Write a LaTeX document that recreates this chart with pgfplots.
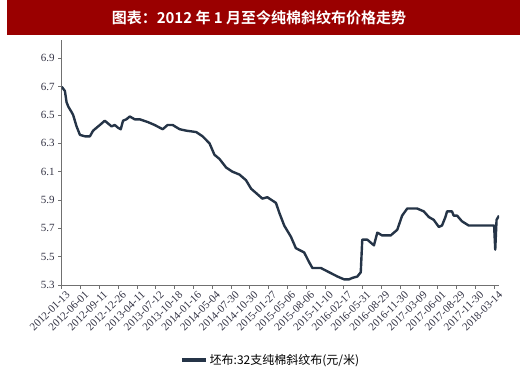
\documentclass[border=0pt]{standalone}
\usepackage{fontspec}
\setmainfont{Liberation Serif}
\newfontfamily\cjk{Noto Sans CJK SC}[BoldFont={Noto Sans CJK SC Bold}]
\usepackage{pgfplots}
\pgfplotsset{compat=1.18}
\definecolor{titlered}{HTML}{9A0000}
\definecolor{linec}{HTML}{253447}
\definecolor{tickc}{HTML}{333344}
\definecolor{axisc}{HTML}{707070}
\begin{document}
\begin{tikzpicture}
\useasboundingbox (0pt,0pt) rectangle (520pt,-376pt);
\fill[titlered] (7pt,0pt) rectangle (520pt,-35pt);
\node[text=white,font=\cjk\bfseries\fontsize{15}{17}\selectfont] at (259pt,-18pt) {图表：2012 年 1 月至今纯棉斜纹布价格走势};
\begin{axis}[
  at={(61.7pt,-285pt)}, anchor=south west,
  scale only axis, width=437.3pt, height=245pt,
  xmin=0, xmax=23.25, ymin=5.3, ymax=7.03,
  axis x line*=bottom, axis y line*=left,
  axis line style={axisc, line width=0.8pt, -},
  tick align=outside, major tick length=3.5pt,
  tick style={axisc, line width=0.8pt},
  xtick={0,...,23},
  xticklabels={2012-01-13,2012-06-01,2012-09-11,2012-12-26,2013-04-11,2013-07-12,2013-10-18,2014-01-16,2014-05-04,2014-07-30,2014-10-30,2015-01-27,2015-05-06,2015-08-06,2015-11-10,2016-02-17,2016-05-31,2016-08-29,2016-11-30,2017-03-09,2017-06-01,2017-08-29,2017-11-30,2018-03-14},
  x tick label style={rotate=45, anchor=north east, font=\fontsize{11}{11}\selectfont, text=tickc, inner sep=1pt, xshift=2.5pt, yshift=-2.5pt},
  ytick={5.3,5.5,5.7,5.9,6.1,6.3,6.5,6.7,6.9},
  y tick label style={font=\fontsize{11}{12}\selectfont, text=tickc},
  yticklabel style={/pgf/number format/fixed, /pgf/number format/fixed zerofill, /pgf/number format/precision=1, /pgf/number format/assume math mode=true},
  legend style={at={(0.478,-0.306)}, anchor=center, draw=none, fill=none, font=\cjk\fontsize{12}{13}\selectfont, inner sep=0pt},
  legend image code/.code={\draw[line width=3.5pt,linec] (0pt,0pt) -- (24pt,0pt);},
]
\addplot[linec, line width=2.4pt, line join=round] coordinates {
(0,6.70) (0.17,6.67) (0.26,6.59) (0.35,6.56) (0.53,6.52) (0.61,6.50) (0.79,6.42) (0.97,6.36)
(1.23,6.35) (1.50,6.35) (1.67,6.39) (1.85,6.41) (2.03,6.43) (2.29,6.46) (2.47,6.44) (2.65,6.42)
(2.82,6.43) (3.00,6.41) (3.14,6.40) (3.26,6.46) (3.44,6.47) (3.62,6.49) (3.88,6.47) (4.15,6.47)
(4.59,6.45) (4.94,6.43) (5.37,6.40) (5.63,6.43) (5.90,6.43) (6.27,6.40) (6.62,6.39) (7.15,6.38)
(7.49,6.35) (7.86,6.30) (8.12,6.22) (8.39,6.19) (8.74,6.13) (9.08,6.10) (9.45,6.08) (9.80,6.04)
(10.07,5.98) (10.33,5.95) (10.67,5.91) (10.93,5.92) (11.39,5.88) (11.57,5.81) (11.83,5.72)
(12.19,5.64) (12.45,5.56) (12.89,5.53) (13.16,5.46) (13.33,5.42) (13.78,5.42) (14.22,5.39)
(14.66,5.36) (15.01,5.34) (15.28,5.34) (15.45,5.35) (15.72,5.36) (15.90,5.39) (15.98,5.62)
(16.25,5.62) (16.60,5.58) (16.78,5.67) (17.04,5.65) (17.49,5.65) (17.84,5.69) (18.10,5.79)
(18.37,5.84) (18.90,5.84) (19.25,5.82) (19.52,5.78) (19.78,5.76) (20.05,5.71) (20.22,5.72)
(20.40,5.78) (20.49,5.82) (20.75,5.82) (20.84,5.79) (21.02,5.79) (21.28,5.75) (21.64,5.72)
(22.34,5.72) (22.99,5.72) (23.05,5.55) (23.12,5.76) (23.25,5.79)
};
\addlegendentry{坯布:32支纯棉斜纹布(元/米)}
\end{axis}
\end{tikzpicture}
\end{document}
